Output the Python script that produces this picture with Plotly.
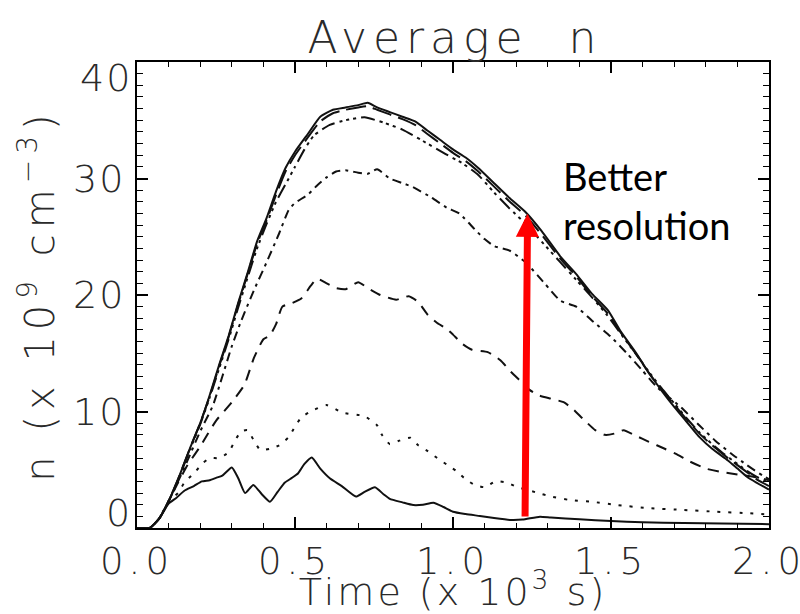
import plotly.graph_objects as go

# ---------------- data ----------------
x_ticks = [0.0, 0.5, 1.0, 1.5, 2.0]
x_ticklabels = ["0.0", "0.5", "1.0", "1.5", "2.0"]
y_ticks = [10, 20, 30]
y_ticklabels = ["10", "20", "30"]
y_end_ticks = [0, 40]
y_end_labels = ["0", "40"]

# highest resolution (solid, top)
t_res7 = [0, 0.04, 0.07, 0.1, 0.13, 0.15, 0.17, 0.2, 0.23, 0.26, 0.29, 0.32, 0.35, 0.38, 0.41, 0.44,
          0.47, 0.5, 0.54, 0.58, 0.62, 0.66, 0.7, 0.73, 0.76, 0.8, 0.84, 0.88, 0.92, 0.96, 1.0, 1.04,
          1.08, 1.13, 1.18, 1.23, 1.28, 1.34, 1.39, 1.44, 1.49, 1.53, 1.58, 1.62, 1.66, 1.70, 1.74,
          1.78, 1.82, 1.87, 1.9, 1.93, 1.96, 2.0]
n_res7 = [0, 0, 0.8, 2.3, 4.2, 5.6, 7.0, 9.0, 11.4, 14.0, 16.5, 19.3, 21.9, 24.6, 26.6, 28.9,
          30.9, 32.3, 33.8, 35.3, 35.9, 36.1, 36.3, 36.5, 36.1, 35.7, 35.3, 34.9, 34.1, 33.3, 32.5, 31.8,
          30.9, 29.6, 28.3, 27.1, 25.5, 23.3, 21.8, 20.1, 18.7, 16.9, 15.0, 13.3, 11.8, 10.4, 9.1,
          7.8, 6.8, 5.8, 5.1, 4.4, 3.9, 3.3]

# long dashes (very close to the top curve)
t_res6 = [0, 0.04, 0.07, 0.1, 0.13, 0.15, 0.17, 0.2, 0.23, 0.26, 0.29, 0.32, 0.35, 0.38, 0.41, 0.44,
          0.47, 0.5, 0.54, 0.58, 0.62, 0.66, 0.7, 0.73, 0.76, 0.8, 0.84, 0.88, 0.92, 0.96, 1.0, 1.04,
          1.08, 1.13, 1.18, 1.23, 1.28, 1.34, 1.39, 1.44, 1.49, 1.53, 1.58, 1.62, 1.66, 1.70, 1.74,
          1.78, 1.82, 1.87, 1.9, 1.93, 1.96, 2.0]
n_res6 = [0, 0, 0.8, 2.3, 4.2, 5.6, 7.0, 9.0, 11.3, 13.9, 16.4, 19.2, 21.8, 24.4, 26.4, 28.6,
          30.6, 32.0, 33.5, 34.9, 35.6, 35.9, 36.1, 36.2, 35.9, 35.5, 35.1, 34.6, 33.8, 33.0, 32.2, 31.5,
          30.6, 29.3, 28.0, 26.8, 25.2, 23.1, 21.6, 19.9, 18.4, 16.8, 14.9, 13.3, 11.9, 10.6, 9.3,
          8.1, 7.1, 6.0, 5.4, 4.8, 4.2, 3.6]

# dash-dot-dot-dot
t_res5 = [0, 0.04, 0.07, 0.1, 0.13, 0.15, 0.17, 0.2, 0.23, 0.26, 0.29, 0.32, 0.35, 0.38, 0.41, 0.44,
          0.47, 0.5, 0.53, 0.56, 0.61, 0.66, 0.72, 0.78, 0.84, 0.9, 0.97, 1.03, 1.08, 1.13, 1.18,
          1.23, 1.28, 1.34, 1.39, 1.44, 1.49, 1.53, 1.58, 1.62, 1.66, 1.7, 1.74, 1.78, 1.82, 1.86,
          1.9, 1.93, 1.96, 2.0]
n_res5 = [0, 0, 0.8, 2.3, 4.1, 5.5, 6.9, 8.9, 11.2, 13.7, 16.2, 18.9, 21.5, 24.0, 26.1, 28.0,
          29.5, 31.0, 32.5, 33.7, 34.6, 35.0, 35.25, 34.8, 34.2, 33.3, 32.2, 31.3, 30.3, 28.8, 27.4,
          26.1, 24.6, 22.8, 21.3, 19.8, 18.2, 16.7, 14.9, 13.4, 12.0, 10.7, 9.4, 8.2, 7.2, 6.3,
          5.5, 4.9, 4.4, 3.9]

# dash-dot
t_res4 = [0, 0.04, 0.07, 0.1, 0.13, 0.16, 0.2, 0.24, 0.27, 0.3, 0.33, 0.37, 0.41, 0.45, 0.48, 0.5,
          0.54, 0.57, 0.6, 0.63, 0.66, 0.7, 0.73, 0.76, 0.8, 0.84, 0.87, 0.93, 0.98, 1.02, 1.07, 1.1,
          1.13, 1.18, 1.23, 1.29, 1.34, 1.39, 1.44, 1.5, 1.55, 1.6, 1.645, 1.68, 1.72, 1.78, 1.83,
          1.88, 1.93, 1.98, 2.0]
n_res4 = [0, 0, 0.8, 2.3, 4.0, 5.8, 8.3, 10.5, 13.0, 15.6, 17.8, 20.4, 22.8, 25.3, 27.3, 27.9,
          28.6, 29.4, 30.1, 30.6, 30.7, 30.5, 30.4, 30.8, 30.0, 29.6, 29.3, 28.4, 27.5, 27.0, 25.6, 24.8,
          24.2, 23.8, 22.8, 21.0, 19.5, 19.0, 17.8, 16.4, 15.0, 13.5, 12.1, 11.3, 10.4, 8.8, 7.5,
          6.4, 5.4, 4.5, 4.2]

# dashed
t_res3 = [0, 0.04, 0.07, 0.1, 0.13, 0.16, 0.2, 0.25, 0.3, 0.34, 0.37, 0.40, 0.42, 0.44, 0.46, 0.49,
          0.52, 0.55, 0.57, 0.6, 0.63, 0.66, 0.7, 0.73, 0.77, 0.82, 0.86, 0.89, 0.92, 0.95, 0.98, 1.0,
          1.03, 1.06, 1.11, 1.15, 1.18, 1.21, 1.24, 1.27, 1.31, 1.35, 1.38, 1.41, 1.45, 1.48, 1.51,
          1.54, 1.58, 1.62, 1.67, 1.71, 1.75, 1.8, 1.85, 1.9, 1.95, 2.0]
n_res3 = [0, 0, 0.8, 2.3, 3.9, 5.4, 7.0, 9.2, 10.8, 12.3, 14.6, 16.2, 16.5, 17.5, 19.0, 19.3,
          19.7, 20.8, 21.4, 21.0, 20.6, 20.5, 21.1, 20.6, 20.0, 19.6, 19.9, 19.4, 18.3, 17.6, 17.1, 16.6,
          15.8, 15.3, 15.1, 14.4, 13.5, 12.7, 11.9, 11.4, 11.1, 10.8, 10.2, 9.4, 8.4, 8.0, 8.1,
          8.4, 7.9, 7.4, 6.8, 6.3, 5.7, 5.1, 4.8, 4.6, 4.4, 4.1]

# dotted
t_res2 = [0, 0.04, 0.07, 0.1, 0.13, 0.15, 0.18, 0.21, 0.23, 0.26, 0.29, 0.31, 0.33, 0.35, 0.37, 0.39,
          0.42, 0.45, 0.48, 0.5, 0.52, 0.55, 0.6, 0.65, 0.72, 0.76, 0.775, 0.8, 0.83, 0.865, 0.89,
          0.92, 0.95, 0.98, 1.01, 1.035, 1.065, 1.1, 1.135, 1.17, 1.2, 1.27, 1.31, 1.37, 1.44, 1.52,
          1.62, 1.73, 1.83, 1.94, 2.0]
n_res2 = [0, 0, 0.8, 2.3, 3.0, 3.9, 4.7, 5.6, 6.0, 6.0, 6.5, 7.5, 8.3, 8.4, 7.5, 6.7,
          6.8, 7.1, 7.8, 8.7, 9.5, 10.0, 10.55, 9.9, 9.6, 8.8, 8.0, 7.2, 7.5, 7.75, 7.1,
          6.6, 6.0, 5.45, 4.9, 4.3, 3.75, 3.5, 4.0, 3.9, 3.55, 3.0, 2.7, 2.4, 2.25, 1.97,
          1.7, 1.55, 1.4, 1.26, 1.15]

# lowest resolution (solid, bottom)
t_res1 = [0, 0.04, 0.07, 0.1, 0.125, 0.15, 0.18, 0.205, 0.23, 0.25, 0.27, 0.3, 0.32, 0.342, 0.368,
          0.395, 0.421, 0.445, 0.468, 0.49, 0.51, 0.53, 0.553, 0.58, 0.611, 0.648, 0.693, 0.72, 0.753,
          0.78, 0.80, 0.84, 0.874, 0.905, 0.938, 0.97, 1.0, 1.04, 1.085, 1.13, 1.18, 1.22, 1.275,
          1.31, 1.4, 1.5, 1.6, 1.73, 1.85, 2.0]
n_res1 = [0, 0, 0.8, 2.1, 2.6, 3.2, 3.6, 4.0, 4.1, 4.3, 4.5, 5.2, 4.3, 3.0, 3.7,
          2.9, 2.25, 3.1, 3.9, 4.3, 4.7, 5.5, 6.05, 5.1, 4.25, 3.6, 2.7, 3.1, 3.5,
          2.9, 2.5, 2.2, 1.97, 2.0, 2.17, 1.8, 1.4, 1.2, 1.03, 0.85, 0.69, 0.72, 0.97,
          0.9, 0.75, 0.6, 0.5, 0.42, 0.38, 0.33]

series = [
    (t_res1, n_res1, "solid"),
    (t_res2, n_res2, "3px,8px"),
    (t_res3, n_res3, "11px,8px"),
    (t_res4, n_res4, "9px,5px,3px,5px"),
    (t_res5, n_res5, "14px,5px,3px,4px,3px,4px,3px,5px"),
    (t_res6, n_res6, "20px,7px"),
    (t_res7, n_res7, "solid"),
]

# annotation: arrow tail / tip, text position
arrow_tail = (1.228, 0.86)
arrow_tip = (1.236, 26.97)
note_text = "Better<br>resolution"
note_pos = (1.343, 28.1)

# ---------------- figure ----------------
FONT = "DejaVu Sans"
TXT = "#2a2a2a"


def spaced(s, px):
    return '<span style="letter-spacing:%dpx">%s</span>' % (px, s)


fig = go.Figure()
for t, n, dash in series:
    fig.add_trace(go.Scatter(
        x=t, y=n, mode="lines",
        line=dict(color="#111111", width=2, dash=dash, shape="spline", smoothing=0.5),
        showlegend=False, hoverinfo="skip"))

tick_font = dict(family=FONT, size=38, color=TXT, weight=200)
xtick_font = dict(family=FONT, size=37, color=TXT, weight=200)

axis_common = dict(
    ticks="inside", ticklen=11, tickwidth=1.5, tickcolor="black",
    showline=True, linewidth=2, linecolor="black", mirror="allticks",
    showgrid=False, zeroline=False, ticklabeloverflow="allow",
)

fig.update_xaxes(
    range=[0, 2], tickmode="array", tickvals=x_ticks,
    ticktext=[spaced(s, 5) for s in x_ticklabels],
    tickfont=xtick_font,
    minor=dict(tickmode="linear", tick0=0, dtick=0.1, ticks="inside", ticklen=5,
               tickwidth=1.2, tickcolor="black", showgrid=False),
    ticklabelstandoff=0,
    title=dict(text=spaced("Time (x 10<sup>3</sup> s)", 3),
               font=dict(family=FONT, size=38, color=TXT, weight=200), standoff=7),
    **axis_common)

fig.update_yaxes(
    range=[0, 40], tickmode="array", tickvals=y_ticks,
    ticktext=[spaced(s, 2) for s in y_ticklabels],
    tickfont=tick_font,
    minor=dict(tickmode="linear", tick0=0, dtick=1, ticks="inside", ticklen=6,
               tickwidth=1.2, tickcolor="black", showgrid=False),
    ticklabelstandoff=2,
    title=dict(text=spaced("n (x 10<sup>9</sup> cm<sup>−3</sup>)", 6),
               font=dict(family=FONT, size=40, color=TXT, weight=200), standoff=6),
    **axis_common)

annotations = []
for v, lab, sh in zip(y_end_ticks, y_end_labels, [15, -16]):
    annotations.append(dict(x=0, xref="paper", xanchor="right", xshift=-3,
                            y=v, yref="y", yanchor="middle", yshift=sh,
                            text=spaced(lab, 2), showarrow=False,
                            font=tick_font))

annotations.append(dict(
    x=arrow_tip[0], y=arrow_tip[1], xref="x", yref="y",
    ax=arrow_tail[0], ay=arrow_tail[1], axref="x", ayref="y",
    text="", showarrow=True, arrowhead=2, arrowsize=0.66, arrowwidth=7,
    arrowcolor="#ff0000", standoff=0, startstandoff=0))

annotations.append(dict(
    x=note_pos[0], y=note_pos[1], xref="x", yref="y", xanchor="left", yanchor="middle",
    text=note_text, showarrow=False, align="left",
    font=dict(family="Lato", size=38, color="black")))

fig.update_layout(
    width=800, height=614,
    margin=dict(l=137, r=31, t=62, b=86, autoexpand=False),
    paper_bgcolor="white", plot_bgcolor="white",
    showlegend=False,
    title=dict(text=spaced("Average&nbsp;&nbsp;n", 6), x=0.503, xref="paper", xanchor="center",
               y=1 - 38 / 614, yref="container", yanchor="middle",
               font=dict(family=FONT, size=44, color=TXT, weight=200)),
    annotations=annotations,
)

fig.write_html("out.html")
